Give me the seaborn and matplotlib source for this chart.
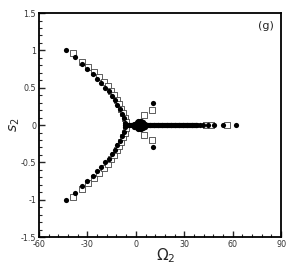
import numpy as np
import pandas as pd
import matplotlib
matplotlib.use('Agg')
import matplotlib.pyplot as plt
import seaborn as sns
from matplotlib.ticker import MultipleLocator

# filled dots on the two branches (Omega_2, s_2)
branch_omega = [-43.3, -37.7, -33.5, -30.0, -26.5, -23.8, -21.4, -18.9, -16.8, -14.7,
                -12.9, -11.5, -9.8, -8.6, -7.5, -6.9,
                -43.3, -37.7, -33.5, -30.0, -26.5, -23.8, -21.4, -18.9, -16.8, -14.7,
                -12.9, -11.5, -9.8, -8.6, -7.5, -6.9,
                10.5, 10.5]
branch_s = [1.00, 0.906, 0.82, 0.75, 0.68, 0.62, 0.56, 0.50, 0.45, 0.39,
            0.33, 0.27, 0.21, 0.15, 0.09, 0.03,
            -1.00, -0.906, -0.82, -0.75, -0.68, -0.62, -0.56, -0.50, -0.45, -0.39,
            -0.33, -0.27, -0.21, -0.15, -0.09, -0.03,
            0.30, -0.30]

# filled dots on s_2 = 0
axis_omega = [-6.5, -6, -5.5, -5, -4.5, -4, -3.5, -3, -2.5, -2, -1.5, -1, -0.5,
              0, 0.5, 1, 1.5, 2, 2.5, 3, 3.5, 4, 4.5, 5, 5.5, 6, 6.5, 7, 7.5,
              8, 8.5, 9, 9.5, 10, 10.5, 11, 11.5, 12, 12.5, 13, 13.5, 14, 14.5,
              15, 15.5, 16, 16.5, 17, 17.5, 18, 18.5, 19, 19.5, 20, 20.5, 21,
              21.5, 22, 22.5, 23, 23.5, 24, 24.5, 25, 25.5, 26, 26.5, 27, 27.5,
              28, 28.5, 29, 29.5, 30, 30.5, 31, 31.5, 32, 32.5, 33, 33.5, 34,
              34.5, 35, 35.5, 36, 36.5, 37, 37.5, 38,
              39.8, 41.9, 44.6, 48.5, 53.9, 62.1]

# filled dots of the cluster near the origin
blob_omega = [-1.0, 0.5, 1.5, 2.5, 3.5, 4.5, 5.5,
              -1.0, 0.5, 1.5, 2.5, 3.5, 4.5, 5.5]
blob_s = [0.02, 0.04, 0.05, 0.05, 0.05, 0.04, 0.02,
          -0.02, -0.04, -0.05, -0.05, -0.05, -0.04, -0.02]

# open squares (Omega_2, s_2)
sq_omega = [-39.1, -33.2, -29.4, -25.7, -22.6, -19.9, -17.4, -15.4, -13.5, -11.8,
            -10.3, -9.0, -7.9, -7.0, -6.4,
            -39.1, -33.2, -29.4, -25.7, -22.6, -19.9, -17.4, -15.4, -13.5, -11.8,
            -10.3, -9.0, -7.9, -7.0, -6.4,
            5.3, 9.9, 5.3, 9.9,
            43.2, 46.5, 56.4]
sq_s = [0.96, 0.85, 0.78, 0.71, 0.64, 0.58, 0.52, 0.46, 0.40, 0.34,
        0.28, 0.22, 0.16, 0.10, 0.04,
        -0.96, -0.85, -0.78, -0.71, -0.64, -0.58, -0.52, -0.46, -0.40, -0.34,
        -0.28, -0.22, -0.16, -0.10, -0.04,
        0.13, 0.20, -0.13, -0.20,
        0, 0, 0]

sns.set_style("ticks")
plt.rcParams['font.family'] = ['DejaVu Sans']

fig = plt.figure(figsize=(3.0, 2.67), dpi=100)
ax = fig.add_axes([0.13, 0.112, 0.807, 0.839])

sq = pd.DataFrame({'omega': sq_omega, 's': sq_s})
dt = pd.DataFrame({'omega': branch_omega + axis_omega + blob_omega,
                   's': branch_s + [0.0] * len(axis_omega) + blob_s})
sns.scatterplot(data=sq, x='omega', y='s', marker='s', s=15, facecolor='white',
                edgecolor='#444444', linewidth=0.6, ax=ax, zorder=2)
sns.scatterplot(data=dt, x='omega', y='s', marker='o', s=14, color='black',
                edgecolor='black', linewidth=0, ax=ax, zorder=3)

ax.set_xlim(-60, 90)
ax.set_ylim(-1.5, 1.5)
ax.xaxis.set_minor_locator(MultipleLocator(6))
ax.yaxis.set_minor_locator(MultipleLocator(0.1))
ax.set_yticks([-1.5, -1, -0.5, 0, 0.5, 1, 1.5])
ax.set_yticklabels(['-1.5', '-1', '-0.5', '0', '0.5', '1', '1.5'])
ax.set_xticks([-60, -30, 0, 30, 60, 90])
ax.set_xticklabels(['-60', '-30', '0', '30', '60', '90'])
ax.tick_params(which='major', direction='in', length=4, width=1, labelsize=5.8, pad=2,
               labelcolor='#333333')
ax.tick_params(which='minor', direction='in', length=2, width=0.8)
for sp in ax.spines.values():
    sp.set_linewidth(1.3)
    sp.set_color('black')

ax.set_xlabel(r'$\Omega_2$', fontsize=11)
ax.set_ylabel(r'$s_2$', fontsize=10)
ax.xaxis.set_label_coords(0.525, -0.04)
ax.yaxis.set_label_coords(-0.07, 0.5)
ax.text(0.97, 0.965, '(g)', transform=ax.transAxes, ha='right', va='top', fontsize=8)

fig.savefig('out.png', dpi=100)
